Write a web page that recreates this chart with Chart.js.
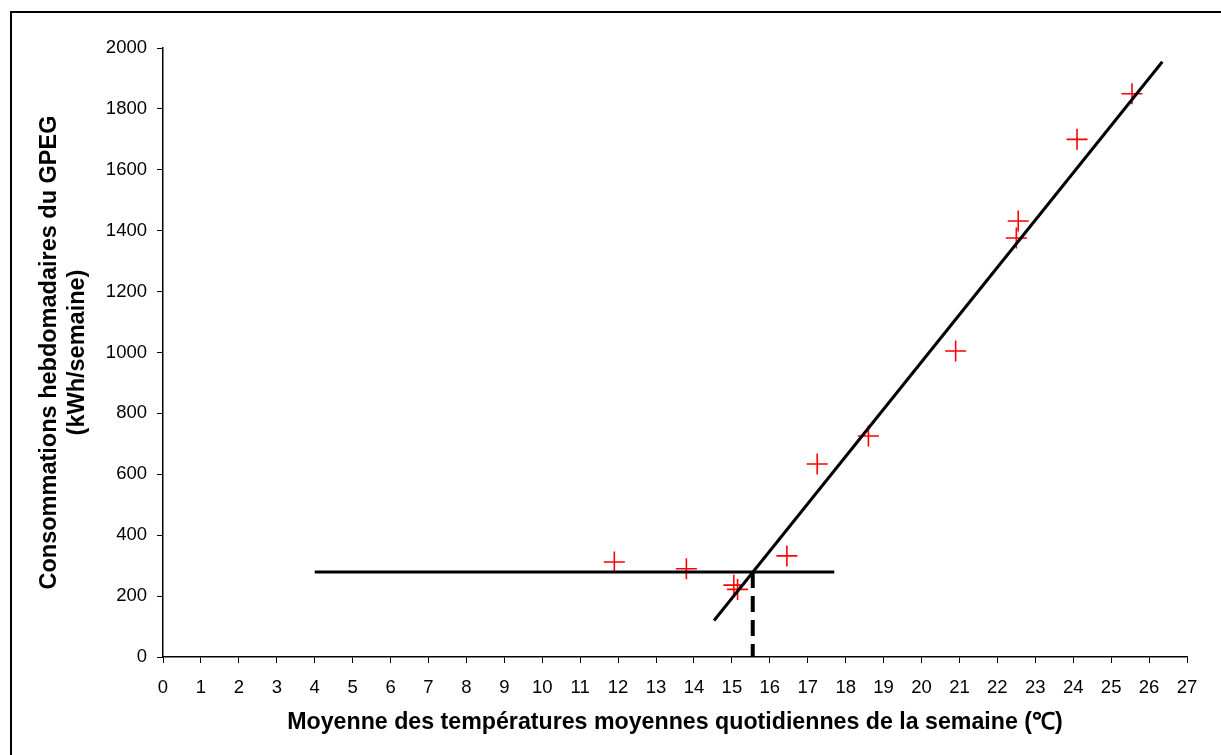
<!DOCTYPE html>
<html>
<head>
<meta charset="utf-8">
<script src="https://cdn.jsdelivr.net/npm/chart.js@4.4.1/dist/chart.umd.min.js"></script>
<style>
  html, body { margin: 0; padding: 0; background: #fff; overflow: hidden; }
  #cadre { position: absolute; left: 0; top: 0; width: 1221px; height: 755px; }
  #bord { position: absolute; left: 10px; top: 11px; width: 1300px; height: 900px;
          border-left: 2px solid #000; border-top: 2px solid #000; }
</style>
</head>
<body>
<div id="bord"></div>
<div id="cadre"><canvas id="graphe" width="1221" height="755"></canvas></div>
<script>
// Mesures hebdomadaires : température moyenne (°C) et consommation (kWh/semaine)
const temperatures = [11.9, 13.8, 15.05, 15.15, 16.45, 17.25, 18.6, 20.9, 22.5, 22.55, 24.1, 25.55];
const consommations = [312, 290, 236, 222, 332, 634, 726, 1005, 1376, 1432, 1700, 1850];

// Talon (consommation hors chauffage) et droite de régression
const talonX = [4, 17.7];
const talonY = [279, 279];
const droiteX = [14.53, 26.35];
const droiteY = [120, 1955];
// Température de non-chauffage (pointillés)
const seuilX = [15.55, 15.55];
const seuilY = [279, 0];

const titreX = "Moyenne des températures moyennes quotidiennes de la semaine (℃)";
const titreY = ["Consommations hebdomadaires du GPEG", "(kWh/semaine)"];

const points = (xs, ys) => xs.map((x, i) => ({ x: x, y: ys[i] }));

const police = "'Liberation Sans', Arial, sans-serif";

new Chart(document.getElementById("graphe"), {
  type: "scatter",
  data: {
    datasets: [
      {
        label: "Talon",
        data: points(talonX, talonY),
        showLine: true,
        borderColor: "#000",
        borderWidth: 3,
        pointRadius: 0,
      },
      {
        label: "Régression",
        data: points(droiteX, droiteY),
        showLine: true,
        borderColor: "#000",
        borderWidth: 3,
        pointRadius: 0,
      },
      {
        label: "Seuil",
        data: points(seuilX, seuilY),
        showLine: true,
        borderColor: "#000",
        borderWidth: 4,
        borderDash: [16, 8],
        pointRadius: 0,
      },
      {
        label: "Mesures",
        data: points(temperatures, consommations),
        pointStyle: "cross",
        pointRadius: 10.5,
        pointBorderWidth: 1.6,
        borderColor: "#ff0000",
        backgroundColor: "#ff0000",
      },
    ],
  },
  options: {
    responsive: false,
    animation: false,
    layout: { padding: { top: 48, right: 34, left: 0, bottom: 0 } },
    plugins: { legend: { display: false }, tooltip: { enabled: false } },
    scales: {
      x: {
        type: "linear",
        min: 0,
        max: 27,
        ticks: { stepSize: 1, color: "#000", font: { family: police, size: 18.5 }, padding: 14, maxRotation: 0 },
        grid: { drawOnChartArea: false, drawTicks: true, tickLength: 6, color: "#000" },
        border: { color: "#000", width: 1.5 },
        title: { display: true, text: titreX, color: "#000", font: { family: police, size: 23.2, weight: "bold" }, padding: { top: 0, bottom: 18 } },
        afterFit: (s) => { s.height = 98; },
      },
      y: {
        min: 0,
        max: 2000,
        ticks: {
          stepSize: 200,
          color: "#000",
          font: { family: police, size: 18.5 },
          padding: 10,
          callback: (v) => String(v),
        },
        grid: { drawOnChartArea: false, drawTicks: true, tickLength: 6, color: "#000" },
        border: { color: "#000", width: 1.5 },
        title: { display: true, text: titreY, color: "#000", font: { family: police, size: 23.5, weight: "bold", lineHeight: 1.17 }, padding: { top: 36 } },
        afterFit: (s) => { s.width = 163; },
      },
    },
  },
});
</script>
</body>
</html>
